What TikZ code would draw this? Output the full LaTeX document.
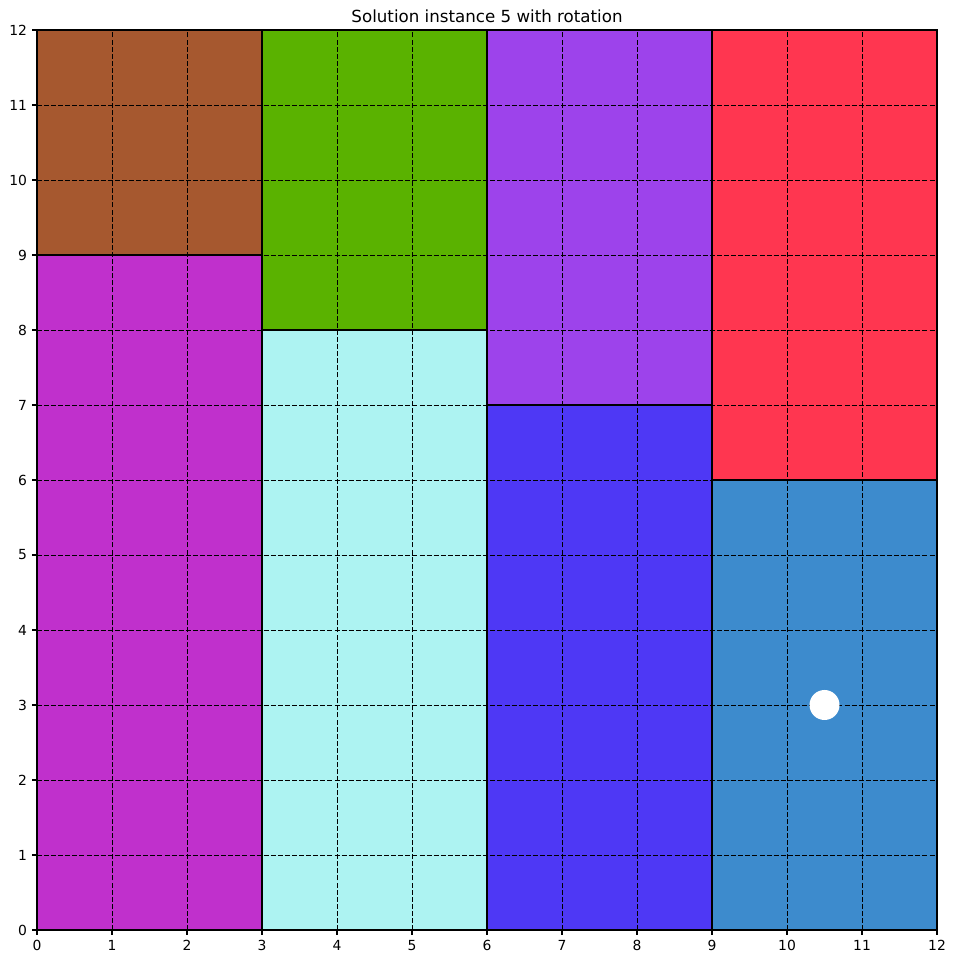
\documentclass[tikz,border=0pt]{standalone}
\usepackage{fontspec}
\setmainfont{DejaVu Sans}
\begin{document}
\begin{tikzpicture}[x=54pt,y=54pt,
  piece/.style={draw=black,line width=1.5pt},
  gridline/.style={black,line width=0.6pt,dash pattern=on 3.6pt off 1.5pt},
  tick/.style={black,line width=0.8pt},
  ticklab/.style={font=\fontsize{10}{12}\selectfont,inner sep=0pt}]
\definecolor{cBrown}{HTML}{A6582F}
\definecolor{cGreen}{HTML}{5AB200}
\definecolor{cPurple}{HTML}{9D43EB}
\definecolor{cRed}{HTML}{FF3650}
\definecolor{cMagenta}{HTML}{C030CC}
\definecolor{cCyan}{HTML}{ADF3F2}
\definecolor{cViolet}{HTML}{4E38F5}
\definecolor{cSteel}{HTML}{3D8BCD}
\useasboundingbox (-0.4933,-0.4533) rectangle (12.2533,12.4);
\fill[white] (-0.4933,-0.4533) rectangle (12.2533,12.4);
% pieces
\fill[cBrown]   (0,9) rectangle (3,12);
\fill[cMagenta] (0,0) rectangle (3,9);
\fill[cGreen]   (3,8) rectangle (6,12);
\fill[cCyan]    (3,0) rectangle (6,8);
\fill[cPurple]  (6,7) rectangle (9,12);
\fill[cViolet]  (6,0) rectangle (9,7);
\fill[cRed]     (9,6) rectangle (12,12);
\fill[cSteel]   (9,0) rectangle (12,6);
% grid
\foreach \i in {1,...,11} {
  \draw[gridline] (\i,0) -- (\i,12);
  \draw[gridline] (0,\i) -- (12,\i);
}
% borders
\draw[piece] (0,9) rectangle (3,12);
\draw[piece] (0,0) rectangle (3,9);
\draw[piece] (3,8) rectangle (6,12);
\draw[piece] (3,0) rectangle (6,8);
\draw[piece] (6,7) rectangle (9,12);
\draw[piece] (6,0) rectangle (9,7);
\draw[piece] (9,6) rectangle (12,12);
\draw[piece] (9,0) rectangle (12,6);
% white circle
\fill[white] (10.5,3) circle (0.2);
% axes frame
\draw[black,line width=0.8pt] (0,0) rectangle (12,12);
% ticks and labels
\foreach \i in {0,...,12} {
  \draw[tick] (\i,0) -- (\i,-0.065);
  \node[ticklab,anchor=north] (xl\i) at (\i,-0.13) {\i};
  \draw[tick] (0,\i) -- (-0.065,\i);
  \node[ticklab,anchor=east] (yl\i) at (-0.13,\i) {\i};
}
\node[font=\fontsize{12}{14}\selectfont,inner sep=0pt] (title) at (6,12.187) {Solution instance 5 with rotation};
\end{tikzpicture}
\end{document}
